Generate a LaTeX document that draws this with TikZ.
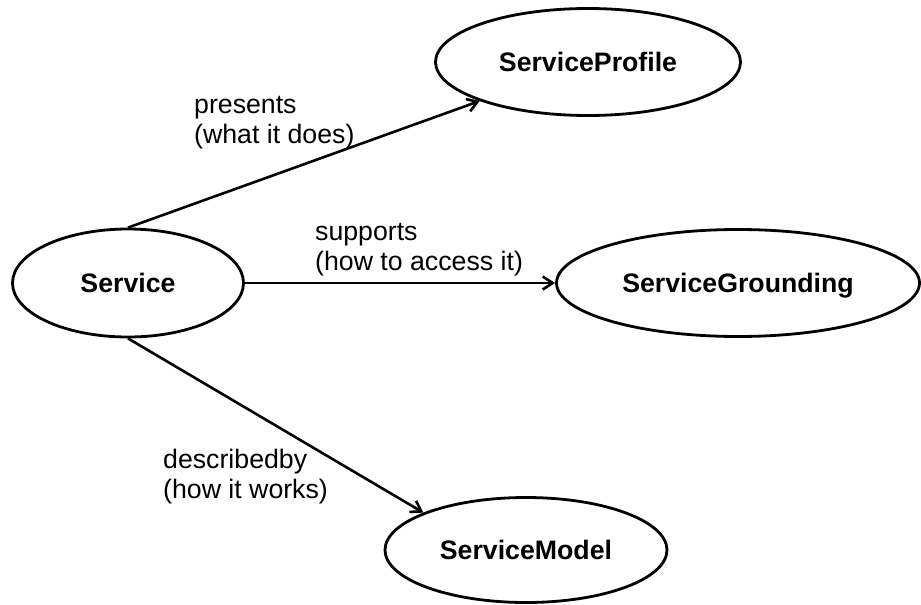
\documentclass[tikz,border=0pt]{standalone}
\usepackage{fontspec}
\setmainfont{Liberation Sans}
\usetikzlibrary{shapes.geometric,arrows.meta}

\begin{document}
\begin{tikzpicture}[
  x=1pt,
  y=-1pt,
  concept/.style={
    draw,
    ellipse,
    line width=2.8pt,
    inner sep=0pt,
    text height=19pt,
    text depth=0pt,
    font=\fontsize{26.7}{30}\selectfont\bfseries
  },
  relation/.style={
    draw,
    line width=2.6pt,
    -{Straight Barb[length=10pt,width=13pt]}
  },
  rellabel/.style={
    anchor=base west,
    align=left,
    inner sep=0pt,
    font=\fontsize{26.7}{30}\selectfont
  },
]
\useasboundingbox (0,0) rectangle (921,605);

\node[concept, minimum width=231pt, minimum height=108pt] (service) at (128,283) {Service};
\node[concept, minimum width=305pt, minimum height=107pt] (profile) at (588,62) {ServiceProfile};
\node[concept, minimum width=363pt, minimum height=107pt] (grounding) at (738,283) {ServiceGrounding};
\node[concept, minimum width=282pt, minimum height=105pt] (model) at (526,550) {ServiceModel};

\draw[relation] (service.north) -- (profile);
\draw[relation] (service.east) -- (grounding.west);
\draw[relation] (service.south) -- (model.160);

\node[rellabel] (presents) at (194,143) {presents\\(what it does)};
\node[rellabel] (supports) at (315,270) {supports\\(how to access it)};
\node[rellabel] (describedby) at (163,498) {describedby\\(how it works)};
\end{tikzpicture}
\end{document}
